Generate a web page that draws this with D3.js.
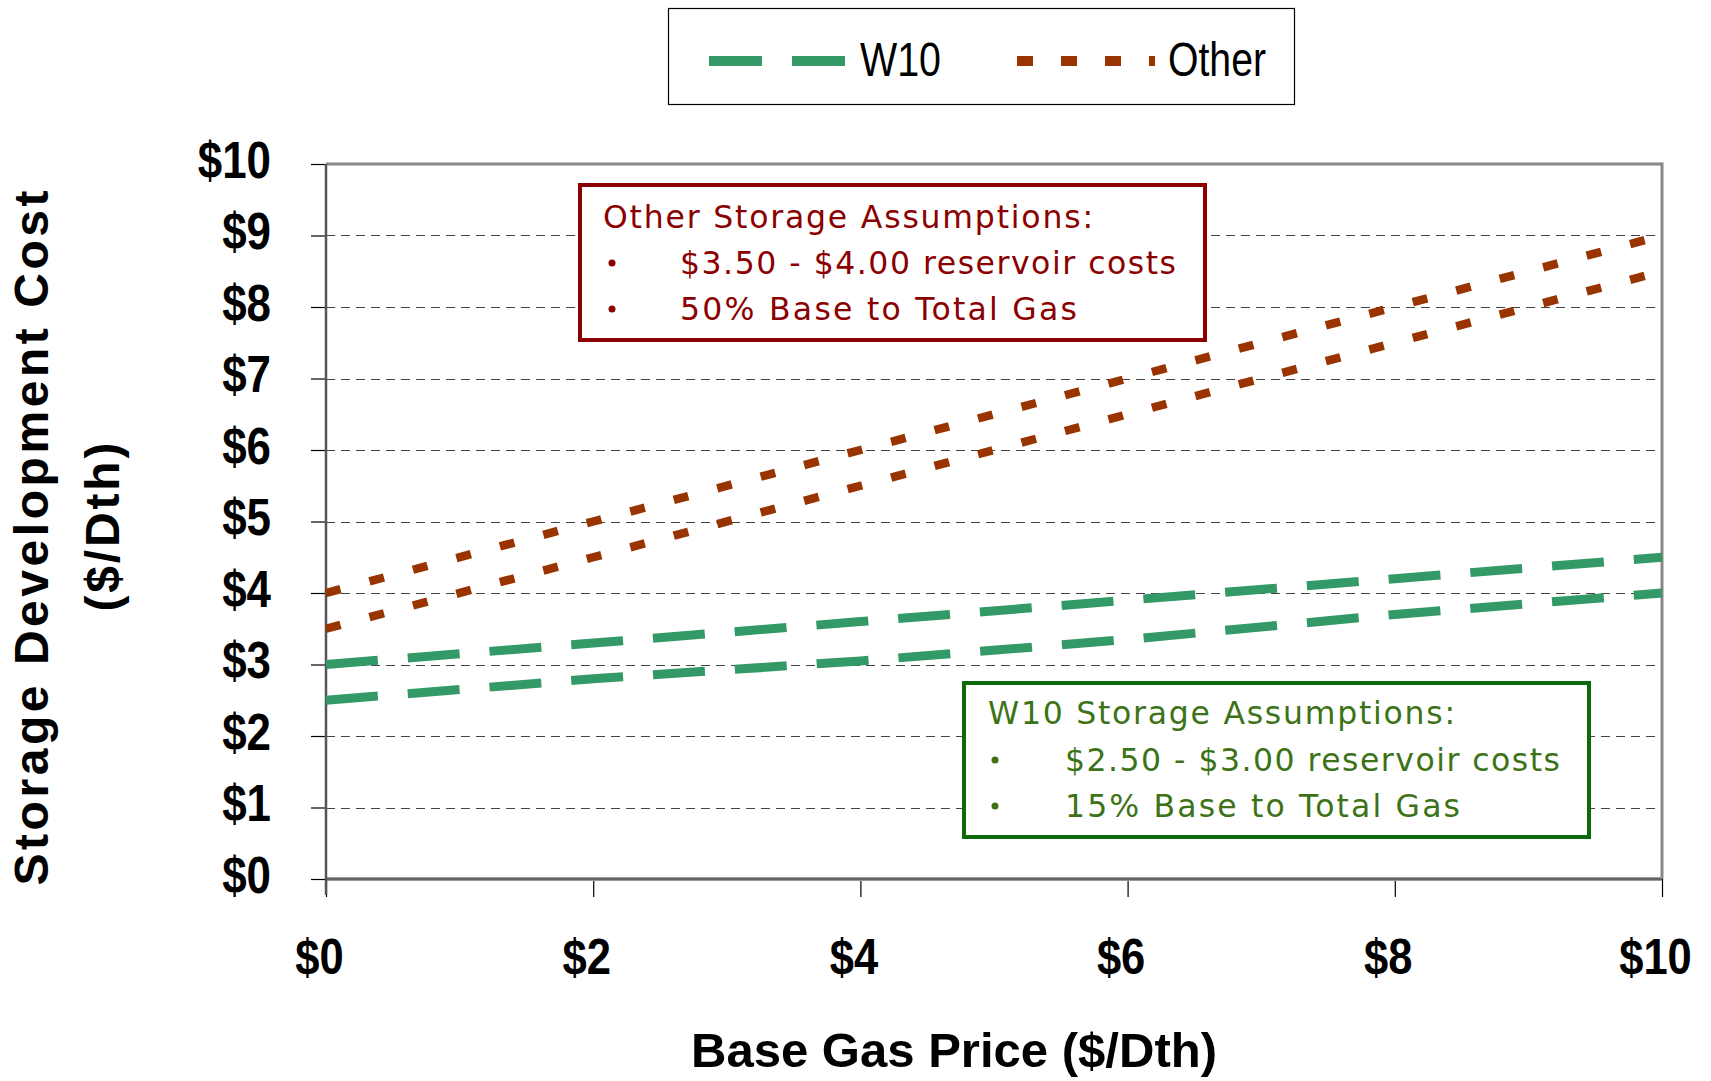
<!DOCTYPE html>
<html>
<head>
<meta charset="utf-8">
<script src="https://cdn.jsdelivr.net/npm/d3@7"></script>
<style>
  html, body { margin: 0; padding: 0; background: #fff; }
  svg { display: block; }
</style>
</head>
<body>
<svg id="chart" width="1711" height="1081"></svg>
<script>
// ---- data ----
const gasPrices = [0, 2, 4, 6, 8, 10];
const w10High  = [3.0, 3.3, 3.6, 3.9, 4.2, 4.5];
const w10Low   = [2.5, 2.8, 3.05, 3.35, 3.7, 4.0];
const otherHigh = [4.0, 5.0, 6.0, 7.0, 8.0, 9.0];
const otherLow  = [3.5, 4.5, 5.5, 6.5, 7.5, 8.5];
const yTicks = [0, 1, 2, 3, 4, 5, 6, 7, 8, 9, 10];
const xTicks = [0, 2, 4, 6, 8, 10];
const legendLabels = ["W10", "Other"];
const otherNote = ["Other Storage Assumptions:", "$3.50 - $4.00 reservoir costs", "50% Base to Total Gas"];
const w10Note = ["W10 Storage Assumptions:", "$2.50 - $3.00 reservoir costs", "15% Base to Total Gas"];

const GREEN = "#339966", BROWN = "#993300";
const svg = d3.select("#chart");

const x = d3.scaleLinear().domain([0, 10]).range([326, 1662]);
const y = d3.scaleLinear().domain([0, 10]).range([879, 164]);

function condense(sel, f) {
  sel.each(function () {
    const L = this.getComputedTextLength();
    d3.select(this).attr("textLength", L * f).attr("lengthAdjust", "spacingAndGlyphs");
  });
}

// gridlines
svg.append("g").selectAll("line").data(yTicks.filter(d => d > 0 && d < 10)).join("line")
  .attr("x1", x(0)).attr("x2", x(10))
  .attr("y1", d => Math.round(y(d)) + 0.5).attr("y2", d => Math.round(y(d)) + 0.5)
  .attr("stroke", "#444").attr("stroke-width", 1).attr("stroke-dasharray", "9,6");

// plot frame (top & right)
svg.append("line").attr("x1", x(0)).attr("x2", x(10)).attr("y1", y(10)).attr("y2", y(10))
  .attr("stroke", "#888").attr("stroke-width", 3);
svg.append("line").attr("x1", x(10)).attr("x2", x(10)).attr("y1", y(10) - 1.5).attr("y2", y(0))
  .attr("stroke", "#888").attr("stroke-width", 3);

// axes
const yAxis = d3.axisLeft(y).tickValues(yTicks).tickSize(15).tickFormat(d => "$" + d);
const gy = svg.append("g").attr("transform", `translate(${x(0)},0)`).call(yAxis);
gy.select(".domain").remove();
gy.selectAll(".tick line").attr("stroke", "#000").attr("stroke-width", 1.2);
gy.selectAll(".tick text")
  .attr("x", -55).attr("dy", null).attr("y", 13)
  .attr("font-family", "'Liberation Sans', Arial, sans-serif")
  .attr("font-weight", "bold").attr("font-size", 51).attr("fill", "#000")
  .call(condense, 0.86);

const xAxis = d3.axisBottom(x).tickValues(xTicks).tickSize(18).tickFormat(d => "$" + d);
const gx = svg.append("g").attr("transform", `translate(0,${y(0)})`).call(xAxis);
gx.select(".domain").remove();
gx.selectAll(".tick line").attr("stroke", "#000").attr("stroke-width", 1.2);
gx.selectAll(".tick text")
  .attr("y", 95).attr("dy", null).attr("dx", -7)
  .attr("font-family", "'Liberation Sans', Arial, sans-serif")
  .attr("font-weight", "bold").attr("font-size", 50).attr("fill", "#000")
  .call(condense, 0.87);

// axis lines
svg.append("line").attr("x1", x(0)).attr("x2", x(10)).attr("y1", y(0)).attr("y2", y(0))
  .attr("stroke", "#999").attr("stroke-width", 4);
svg.append("line").attr("x1", x(0)).attr("x2", x(10)).attr("y1", y(0)).attr("y2", y(0))
  .attr("stroke", "#555").attr("stroke-width", 1.5);
svg.append("line").attr("x1", x(0)).attr("x2", x(0)).attr("y1", y(10)).attr("y2", y(0) + 16)
  .attr("stroke", "#555").attr("stroke-width", 2.5);

// series
const line = d3.line().x(d => x(d[0])).y(d => y(d[1]));
const series = [
  { vals: otherHigh, color: BROWN, dash: "15,30", w: 8.5 },
  { vals: otherLow,  color: BROWN, dash: "15,30", w: 8.5 },
  { vals: w10High,   color: GREEN, dash: "52,30", w: 9 },
  { vals: w10Low,    color: GREEN, dash: "52,30", w: 9 }
];
svg.append("g").selectAll("path").data(series).join("path")
  .attr("d", s => line(gasPrices.map((g, i) => [g, s.vals[i]])))
  .attr("fill", "none").attr("stroke", s => s.color)
  .attr("stroke-width", s => s.w).attr("stroke-dasharray", s => s.dash);

// legend
const lg = svg.append("g");
lg.append("rect").attr("x", 668.5).attr("y", 8.5).attr("width", 626).attr("height", 96)
  .attr("fill", "#fff").attr("stroke", "#000").attr("stroke-width", 1.2);
lg.append("line").attr("x1", 709).attr("x2", 845).attr("y1", 61).attr("y2", 61)
  .attr("stroke", GREEN).attr("stroke-width", 10).attr("stroke-dasharray", "53,30");
lg.append("line").attr("x1", 1017).attr("x2", 1155).attr("y1", 61).attr("y2", 61)
  .attr("stroke", BROWN).attr("stroke-width", 10).attr("stroke-dasharray", "16,28");
lg.selectAll("text").data(legendLabels).join("text")
  .attr("x", (d, i) => i === 0 ? 860 : 1168).attr("y", 76)
  .attr("font-family", "'Liberation Sans Narrow', 'Arial Narrow', 'Liberation Sans', sans-serif")
  .attr("font-size", 48).attr("fill", "#000")
  .attr("textLength", (d, i) => i === 0 ? 81 : 98).attr("lengthAdjust", "spacingAndGlyphs")
  .text(d => d);

// annotation boxes
function note(lines, bx, by, bw, bh, stroke, fill, tx, bulletX, textX, baselines, widths) {
  const g = svg.append("g");
  g.append("rect").attr("x", bx).attr("y", by).attr("width", bw).attr("height", bh)
    .attr("fill", "#fff").attr("stroke", stroke).attr("stroke-width", 4);
  lines.forEach((t, i) => {
    g.append("text").attr("x", i === 0 ? tx : textX).attr("y", baselines[i])
      .attr("font-family", "'DejaVu Sans', Verdana, sans-serif").attr("font-size", 31.5)
      .attr("fill", fill).attr("textLength", widths[i]).attr("lengthAdjust", "spacing")
      .text(t);
    if (i > 0) {
      g.append("circle").attr("cx", bulletX).attr("cy", baselines[i] - 11).attr("r", 3.5)
        .attr("fill", fill);
    }
  });
}
note(otherNote, 580, 185, 625, 155, "#8b0000", "#8b0000", 603, 612, 680, [228, 274, 320], [490, 496, 397]);
note(w10Note, 964, 683, 625, 154, "#0b6b0b", "#3d7317", 988, 995, 1065, [724, 771, 817], [467, 495, 395]);

// axis titles
svg.append("text").attr("x", 954).attr("y", 1067).attr("text-anchor", "middle")
  .attr("font-family", "'Liberation Sans', Arial, sans-serif").attr("font-weight", "bold")
  .attr("font-size", 49).attr("fill", "#000")
  .attr("textLength", 526).attr("lengthAdjust", "spacingAndGlyphs")
  .text("Base Gas Price ($/Dth)");

svg.append("text").attr("transform", "translate(48,538) rotate(-90)").attr("text-anchor", "middle")
  .attr("font-family", "'Liberation Sans', Arial, sans-serif").attr("font-weight", "bold")
  .attr("font-size", 48).attr("fill", "#000")
  .attr("textLength", 695).attr("lengthAdjust", "spacing")
  .text("Storage Development Cost");
svg.append("text").attr("transform", "translate(119,527) rotate(-90)").attr("text-anchor", "middle")
  .attr("font-family", "'Liberation Sans', Arial, sans-serif").attr("font-weight", "bold")
  .attr("font-size", 48).attr("fill", "#000")
  .attr("textLength", 169).attr("lengthAdjust", "spacing")
  .text("($/Dth)");
</script>
</body>
</html>
